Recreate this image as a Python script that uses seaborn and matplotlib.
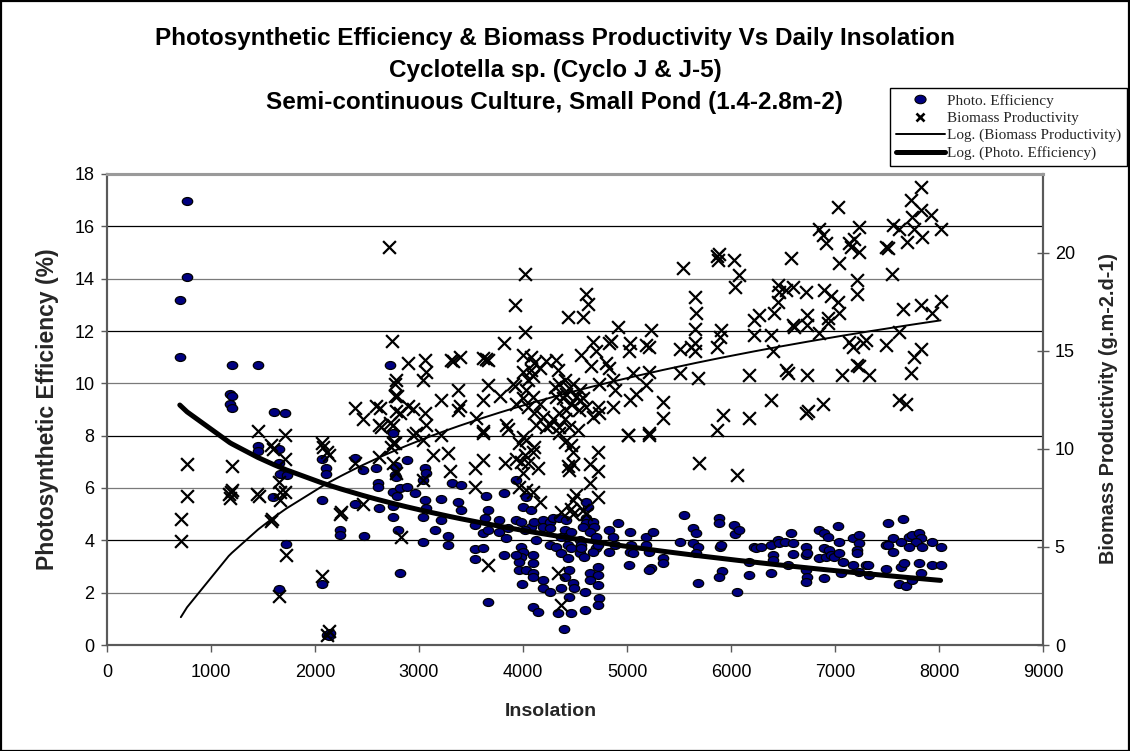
import numpy as np
import pandas as pd
import matplotlib
matplotlib.use("Agg")
import matplotlib.pyplot as plt
import matplotlib.patches as mpatches
from matplotlib.path import Path
from matplotlib.lines import Line2D
import seaborn as sns

sns.set_theme(style="white")
plt.rcParams["font.family"] = ["Liberation Sans", "DejaVu Sans"]

# ---- data: (insolation, photosynthetic efficiency %) ----
photo_points = [
    (770, 16.95), (770, 14.05), (700, 13.2), (700, 11.0), (1200, 10.7), (1180, 9.6), (1200, 9.5), (1180, 9.2),
    (1200, 9.05), (1450, 10.7), (1610, 8.9), (1710, 8.88), (2720, 10.7), (2750, 8.1), (1450, 7.6), (1650, 7.5),
    (1450, 7.4), (1650, 6.95), (1660, 6.55), (1730, 6.5), (1600, 5.65), (1720, 3.85), (1650, 2.15), (2070, 7.1),
    (2110, 6.75), (2110, 6.55), (2070, 5.55), (2070, 2.35), (2120, 0.4), (2130, 0.35), (2140, 0.45), (2245, 4.4),
    (2245, 4.2), (2380, 7.15), (2460, 6.7), (2380, 5.4), (2470, 4.15), (2590, 6.75), (2610, 6.2), (2610, 6.05),
    (2620, 5.25), (2770, 6.5), (2750, 5.85), (2750, 5.3), (2750, 4.9), (2800, 4.4), (2815, 2.75), (2780, 6.85),
    (2790, 5.7), (2780, 6.43), (2880, 7.07), (3055, 6.75), (3040, 6.31), (3070, 6.56), (2815, 6.0), (2880, 6.05),
    (2960, 5.8), (3055, 5.54), (3040, 4.88), (3070, 5.22), (3210, 5.58), (3375, 5.48), (3405, 5.16), (3320, 6.18),
    (3405, 6.11), (3040, 3.95), (3210, 4.78), (3150, 4.4), (3280, 4.17), (3280, 3.82), (3535, 4.59), (3535, 3.66),
    (3535, 3.27), (3615, 3.69), (3645, 5.69), (3665, 5.16), (3630, 4.84), (3615, 4.27), (3665, 4.4), (3765, 4.78),
    (3765, 4.33), (3815, 5.8), (3855, 4.46), (3840, 4.08), (3815, 3.44), (3665, 1.63), (3935, 6.31), (3935, 4.78),
    (3985, 4.71), (4000, 5.29), (4080, 5.16), (4030, 5.67), (3985, 3.76), (4000, 3.57), (3985, 3.38), (3965, 3.19),
    (3965, 2.87), (4030, 2.87), (3935, 3.44), (4095, 3.44), (4095, 3.12), (4095, 2.74), (4095, 2.61), (3990, 2.33),
    (4080, 4.52), (4110, 4.71), (4190, 4.78), (4190, 4.52), (4125, 4.01), (4015, 4.4), (4255, 4.71), (4255, 4.46),
    (4285, 4.84), (4350, 4.84), (4415, 4.78), (4255, 3.82), (4320, 3.76), (4365, 3.5), (4400, 4.4), (4415, 4.14),
    (4465, 4.33), (4365, 4.14), (4430, 3.82), (4465, 3.69), (4430, 3.31), (4445, 2.87), (4400, 2.61), (4190, 2.48),
    (4190, 2.17), (4255, 2.04), (4365, 2.17), (4480, 2.36), (4495, 2.17), (4445, 1.85), (4095, 1.47), (4145, 1.27),
    (4340, 1.24), (4465, 1.24), (4395, 0.61), (4605, 4.84), (4605, 4.65), (4575, 4.52), (4625, 5.29), (4605, 5.48),
    (4545, 4.01), (4560, 3.82), (4545, 3.5), (4590, 3.38), (4560, 3.69), (4670, 4.71), (4685, 4.52), (4640, 4.33),
    (4705, 4.14), (4705, 3.69), (4670, 3.57), (4720, 3.82), (4640, 2.74), (4720, 2.99), (4720, 2.67), (4640, 2.48),
    (4720, 2.29), (4735, 1.78), (4720, 1.53), (4600, 2.04), (4600, 1.34), (4830, 4.4), (4865, 4.14), (4910, 4.65),
    (4830, 3.57), (4880, 3.82), (5025, 4.33), (5040, 3.82), (5025, 3.57), (5055, 3.5), (5015, 3.06), (5185, 4.14),
    (5250, 4.33), (5185, 3.82), (5215, 3.57), (5345, 3.31), (5345, 3.12), (5230, 2.93), (5215, 2.87), (5550, 4.97),
    (5505, 3.95), (5680, 2.36), (5630, 4.46), (5665, 4.27), (5630, 3.88), (5680, 3.76), (5665, 3.5),
    (5880, 4.84), (5880, 4.65), (5890, 3.76), (5905, 3.82), (5915, 2.84), (5880, 2.61), (6030, 4.59), (6040, 4.24),
    (6075, 4.4), (6060, 2.04), (6170, 3.18), (6170, 2.67), (6225, 3.76), (6240, 3.69), (6290, 3.76), (6385, 3.82),
    (6400, 3.44), (6400, 3.25), (6385, 2.74), (6450, 4.01), (6465, 3.88), (6515, 3.95), (6575, 4.27), (6595, 3.88),
    (6595, 3.48), (6545, 3.06), (6720, 3.76), (6720, 3.44), (6735, 3.5), (6720, 2.87), (6735, 2.61), (6720, 2.42),
    (6850, 4.39), (6895, 4.27), (6930, 4.14), (6850, 3.31), (6915, 3.38), (6895, 3.69), (6945, 3.63), (6960, 3.44),
    (6995, 3.38), (6890, 2.55), (7025, 4.55), (7040, 3.95), (7040, 3.5), (7075, 3.18), (7170, 4.08), (7235, 4.2),
    (7235, 3.88), (7215, 3.63), (7215, 3.5), (7170, 3.06), (7235, 2.8), (7295, 3.06), (7315, 3.06), (7330, 2.67),
    (7055, 2.77), (7505, 4.67), (7650, 4.8), (7555, 4.08), (7490, 3.82), (7505, 3.82), (7555, 3.57), (7635, 3.95),
    (7715, 4.14), (7745, 4.2), (7810, 4.27), (7825, 4.08), (7775, 3.95), (7715, 3.76), (7840, 3.76), (7935, 3.95),
    (8015, 3.76), (7490, 2.89), (7635, 2.97), (7665, 3.15), (7810, 3.15), (7825, 2.74), (7935, 3.06), (8015, 3.06),
    (7615, 2.33), (7680, 2.26), (7745, 2.48),
]

# ---- data: (insolation, biomass productivity g.m-2.d-1) ----
biomass_points = [
    (2710, 20.3), (2745, 15.5), (2765, 13.3), (2765, 12.7), (2780, 11.9), (2380, 12.1), (2460, 11.5), (2585, 12.2),
    (2620, 11.2), (2630, 11.1), (2750, 11.2), (1450, 10.9), (1580, 10.2), (1710, 10.7), (2070, 10.3), (2750, 10.3),
    (770, 9.2), (770, 7.6), (710, 6.4), (710, 5.3), (1200, 9.1), (1170, 7.7), (1200, 7.9), (1180, 7.5),
    (1190, 7.8), (1440, 7.7), (1460, 7.6), (1600, 10.0), (1710, 9.5), (1655, 8.3), (1660, 7.8), (1710, 7.8),
    (1660, 7.4), (1590, 6.4), (1580, 6.3), (1725, 4.6), (1655, 2.5), (2080, 10.1), (2115, 9.85), (2130, 9.7),
    (2070, 3.5), (2130, 0.7), (2115, 0.5), (2250, 6.8), (2240, 6.7), (2460, 7.2), (2380, 9.25), (2620, 9.6),
    (2735, 10.1), (2750, 9.25), (2765, 10.3), (2895, 14.35), (3055, 14.5), (3070, 13.9), (3040, 13.5), (2780, 13.5),
    (2785, 12.7), (2625, 12.1), (2895, 12.2), (2940, 12.05), (2815, 11.8), (3055, 11.8), (3070, 11.2), (2720, 11.3),
    (2945, 10.7), (3040, 10.45), (3215, 12.5), (3310, 14.5), (3390, 14.7), (3330, 14.45), (3375, 13.0), (3390, 12.2),
    (3375, 12.0), (3215, 10.7), (3550, 11.55), (3615, 14.6), (3665, 14.5), (3640, 14.55), (3665, 13.25), (3615, 12.5),
    (3615, 10.9), (3775, 12.7), (3815, 15.4), (3920, 17.3), (3840, 11.2), (3855, 11.0), (3920, 13.2), (4000, 10.6),
    (4020, 18.9), (4020, 15.95), (4000, 14.8), (4080, 14.7), (4110, 14.35), (4080, 14.0), (4000, 13.9), (4045, 13.5),
    (4095, 13.7), (4160, 14.1), (4225, 14.45), (4030, 13.0), (4000, 12.6), (4095, 12.65), (4045, 12.15), (4160, 12.3),
    (3935, 12.3), (3905, 13.3), (4110, 11.8), (4190, 11.6), (4125, 11.2), (4225, 11.1), (4320, 14.5), (4335, 14.0),
    (4305, 13.15), (4350, 13.3), (4400, 13.5), (4445, 13.1), (4480, 13.3), (4320, 12.65), (4385, 12.6), (4415, 12.8),
    (4465, 12.3), (4510, 12.65), (4545, 12.5), (4350, 11.8), (4415, 12.0), (4400, 11.5), (4350, 11.1), (4445, 11.1),
    (4285, 11.5), (4255, 11.2), (4430, 16.7), (4575, 16.7), (4605, 17.9), (4625, 17.4), (4560, 14.8), (4670, 15.45),
    (4705, 15.0), (4655, 14.2), (4545, 13.0), (4575, 12.6), (4605, 12.15), (4720, 12.15), (4540, 12.0), (4525, 10.95),
    (4670, 11.6), (4735, 11.8), (4845, 15.5), (4830, 15.4), (4910, 16.2), (4800, 14.35), (4830, 14.1), (4865, 13.5),
    (4735, 13.3), (4880, 13.0), (4865, 12.15), (5025, 15.4), (5020, 15.0), (5055, 13.85), (5090, 12.8), (5025, 12.5),
    (5005, 10.7), (5230, 16.05), (5185, 15.3), (5215, 15.2), (5215, 13.9), (5185, 13.25), (5345, 12.4), (5345, 11.55),
    (5215, 10.8), (5535, 19.2), (5505, 15.1), (5615, 15.2), (5650, 15.0), (5505, 13.85), (5650, 17.75), (5665, 16.9),
    (5650, 16.1), (5650, 15.4), (5680, 13.6), (5870, 19.8), (5875, 19.6), (5880, 19.9), (6030, 19.6), (6080, 18.85),
    (6040, 18.25), (5905, 16.05), (5890, 15.7), (5870, 15.2), (5920, 11.7), (5870, 10.95), (6175, 13.75), (6175, 11.55),
    (6225, 16.55), (6270, 16.8), (6225, 15.8), (6385, 12.5), (6400, 15.0), (6415, 16.9), (6385, 15.8), (6450, 18.35),
    (6465, 18.0), (6450, 17.5), (6530, 18.1), (6575, 19.7), (6595, 18.25), (6530, 14.0), (6545, 13.85), (6595, 16.3),
    (6610, 16.2), (6720, 18.0), (6735, 16.8), (6735, 16.3), (6735, 13.75), (6720, 11.8), (6740, 11.9), (6880, 12.3),
    (6850, 21.2), (6880, 20.9), (6915, 20.5), (6895, 18.1), (6960, 17.8), (7025, 17.5), (7040, 16.9), (6930, 16.65),
    (6930, 16.4), (6850, 15.9), (7025, 22.3), (7040, 19.45), (7065, 13.75), (7235, 21.3), (7185, 20.7), (7135, 20.5),
    (7155, 20.3), (7235, 20.05), (7215, 18.6), (7215, 17.9), (7135, 15.45), (7170, 15.2), (7295, 15.55), (7265, 15.4),
    (7215, 14.25), (7235, 14.2), (7330, 13.75), (7490, 15.3), (7490, 20.3), (7505, 20.25), (7555, 21.4), (7615, 21.2),
    (7545, 18.9), (7650, 17.1), (7615, 15.95), (7615, 12.5), (7680, 12.3), (7730, 13.85), (7760, 14.7), (7825, 15.1),
    (7695, 20.55), (7760, 21.2), (7840, 20.8), (7825, 22.15), (7730, 22.65), (7825, 23.35), (7745, 21.8), (7920, 21.9),
    (8015, 21.2), (7825, 17.3), (7935, 16.9), (8015, 17.55), (5690, 9.25), (6055, 8.65), (2975, 10.8), (3135, 9.7),
    (3280, 9.8), (2780, 8.75), (3295, 8.85), (3040, 8.4), (2830, 5.5), (3535, 9.0), (3615, 9.45), (3535, 8.05),
    (3615, 10.8), (3825, 9.25), (3935, 9.5), (3985, 9.35), (4015, 9.7), (4045, 9.25), (3965, 10.3), (4030, 10.45),
    (4110, 10.1), (4095, 9.85), (4000, 8.75), (3965, 8.05), (4030, 7.9), (4095, 7.8), (4160, 7.3), (4145, 9.0),
    (4350, 10.8), (4465, 10.2), (4480, 9.85), (4400, 10.35), (4430, 9.1), (4480, 9.2), (4445, 8.9), (4640, 9.2),
    (4720, 8.85), (4720, 9.85), (4640, 8.25), (4720, 7.55), (4365, 6.8), (4465, 6.95), (4480, 7.4), (4510, 7.65),
    (4480, 6.65), (4605, 6.65), (4575, 6.9), (3665, 4.1), (4335, 3.65), (4365, 2.05), (5005, 10.7), (5215, 10.7),
]

# logarithmic trendlines, y = a*ln(x) + b
photo_trend = {"a": -2.749, "b": 27.18}
biomass_trend = {"a": 6.24, "b": -39.55}

x_ticks = [0, 1000, 2000, 3000, 4000, 5000, 6000, 7000, 8000, 9000]
left_ticks = [0, 2, 4, 6, 8, 10, 12, 14, 16, 18]
right_ticks = [0, 5, 10, 15, 20]

title_lines = [
    "Photosynthetic Efficiency & Biomass Productivity Vs Daily Insolation",
    "Cyclotella sp. (Cyclo J & J-5)",
    "Semi-continuous Culture, Small Pond (1.4-2.8m-2)",
]
legend_labels = ["Photo. Efficiency", "Biomass Productivity",
                 "Log. (Biomass Productivity)", "Log. (Photo. Efficiency)"]

photo = pd.DataFrame(photo_points, columns=["Insolation", "Efficiency"])
biomass = pd.DataFrame(biomass_points, columns=["Insolation", "Productivity"])


def log_trend(df, col, coef):
    """Evaluate y = a*ln(x) + b at the sorted x values of a series."""
    xs = np.sort(df["Insolation"].unique())
    return pd.DataFrame({"Insolation": xs, col: coef["a"] * np.log(xs) + coef["b"]})


photo_fit = log_trend(photo, "Efficiency", photo_trend)
bio_fit = log_trend(biomass, "Productivity", biomass_trend)

W, H = 1130, 751
fig = plt.figure(figsize=(W / 100, H / 100), dpi=100)
L, R, T, B = 107, 1043, 174, 645
ax = fig.add_axes([L / W, 1 - B / H, (R - L) / W, (B - T) / H])
ax2 = ax.twinx()

# horizontal gridlines
for v in left_ticks[1:-1]:
    ax.axhline(v, color="black" if v % 4 == 0 else "#7a7a7a", lw=0.9, zorder=0)

# ellipse-shaped marker for efficiency points
circ = Path.unit_circle()
ellipse = Path(circ.vertices * np.array([1.0, 0.76]), circ.codes)

sns.scatterplot(data=photo, x="Insolation", y="Efficiency", ax=ax, marker=ellipse,
                s=56, color="#000080", edgecolor="black", linewidth=0.9,
                legend=False, zorder=3)
sns.lineplot(data=photo_fit, x="Insolation", y="Efficiency", ax=ax, color="black",
             lw=3.6, estimator=None, sort=False, legend=False, zorder=4)

sns.scatterplot(data=biomass, x="Insolation", y="Productivity", ax=ax2, marker="x",
                s=85, color="black", linewidth=1.6, legend=False, zorder=3)
sns.lineplot(data=bio_fit, x="Insolation", y="Productivity", ax=ax2, color="black",
             lw=1.4, estimator=None, sort=False, legend=False, zorder=4)

ax.set_xlim(0, 9000)
ax.set_ylim(0, 18)
ax2.set_ylim(0, 24)
ax.set_xticks(x_ticks)
ax.set_xticklabels([str(t) for t in x_ticks])
ax.set_yticks(left_ticks)
ax.set_yticklabels([str(t) for t in left_ticks])
ax2.set_yticks(right_ticks)
ax2.set_yticklabels([str(t) for t in right_ticks])
for a in (ax, ax2):
    a.set_xlabel("")
    a.set_ylabel("")
    a.grid(False)
    for side, sp in a.spines.items():
        sp.set_visible(True)
        sp.set_color("#5a5a5a")
        sp.set_linewidth(1.5)
    a.spines["top"].set_color("#9a9a9a")
    a.spines["top"].set_linewidth(2.2)

ax.tick_params(axis="x", direction="out", length=5, width=1, color="#5a5a5a",
               labelsize=13, pad=9, bottom=True, labelcolor="black")
ax.tick_params(axis="y", direction="out", length=4, width=1, color="#5a5a5a",
               labelsize=13, pad=5, left=True, labelcolor="black")
ax2.tick_params(axis="y", direction="inout", length=9, width=1, color="#5a5a5a",
                labelsize=13, pad=4, right=True, labelcolor="black")

# titles and axis titles
title_y = [38, 71, 102]
for line, yy in zip(title_lines, title_y):
    fig.text(555 / W, 1 - yy / H, line, ha="center", va="center",
             fontsize=17.5, fontweight="bold", color="black")
fig.text(551 / W, 1 - 711 / H, "Insolation", ha="center", va="center",
         fontsize=14, fontweight="bold")
fig.text(48 / W, 1 - 409 / H, "Photosynthetic Efficiency (%)", ha="center",
         va="center", rotation=90, fontsize=16.5, fontweight="bold")
fig.text(1108 / W, 1 - 409 / H, "Biomass Productivity (g.m-2.d-1)", ha="center",
         va="center", rotation=90, fontsize=14.3, fontweight="bold")

# legend
handles = [
    Line2D([], [], ls="none", marker=ellipse, markersize=8, markerfacecolor="#000080",
           markeredgecolor="black", markeredgewidth=0.8),
    Line2D([], [], ls="none", marker="x", markersize=6, color="black", markeredgewidth=1.9),
    Line2D([], [], color="black", lw=1.4),
    Line2D([], [], color="black", lw=3.6),
]
leg = fig.legend(handles, legend_labels, loc="upper left",
                 bbox_to_anchor=(890 / W, 1 - 168 / H, (1127 - 890) / W, 80 / H),
                 mode="expand", frameon=True, fancybox=False, framealpha=1,
                 edgecolor="black", borderpad=0.38, labelspacing=0.24,
                 handlelength=3.2, handletextpad=0.15, borderaxespad=0,
                 prop={"family": ["Liberation Serif", "DejaVu Serif"], "size": 11})
leg.get_frame().set_linewidth(1.0)

# outer chart border
fig.patches.append(mpatches.Rectangle((0.5 / W, 0.5 / H), 1 - 1.5 / W, 1 - 1.5 / H,
                                      transform=fig.transFigure, fill=False,
                                      edgecolor="black", lw=1.6))

fig.savefig("out.png", dpi=100, facecolor="white")
